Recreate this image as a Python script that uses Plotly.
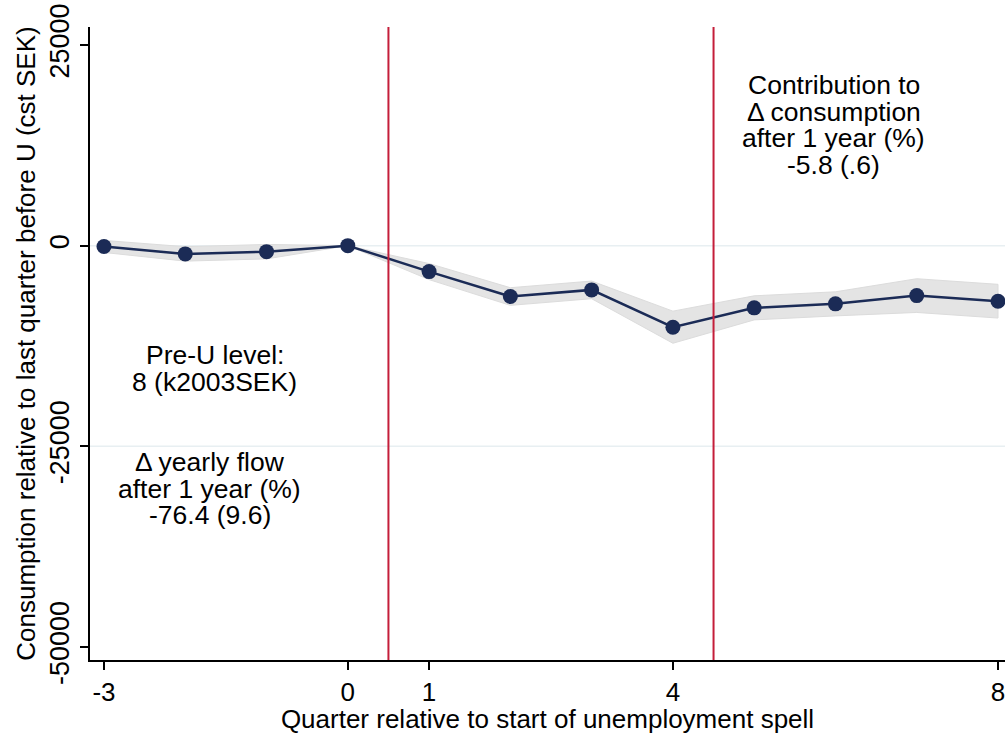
import plotly.graph_objects as go

quarters = [-3, -2, -1, 0, 1, 2, 3, 4, 5, 6, 7, 8]
consumption = [-100, -1030, -750, 0, -3230, -6340, -5510, -10160, -7750, -7250, -6220, -6920]
ci_half = [750, 900, 900, 0, 1000, 1100, 1100, 2000, 1500, 1500, 2100, 2100]
x_ticks = [-3, 0, 1, 4, 8]
y_ticks = [-50000, -25000, 0, 25000]
grid_y = [-25000, 0]
vlines = [0.5, 4.5]

left_text = ["Pre-U level:", "8 (k2003SEK)"]
left_text2 = ["\u0394 yearly flow", "after 1 year (%)", "-76.4 (9.6)"]
right_text = ["Contribution to", "\u0394 consumption", "after 1 year (%)", "-5.8 (.6)"]

FONT = "Liberation Sans, Arial, sans-serif"
NAVY = "#1b2b56"

upper = [c + h for c, h in zip(consumption, ci_half)]
lower = [c - h for c, h in zip(consumption, ci_half)]

fig = go.Figure()
fig.add_trace(go.Scatter(
    x=quarters + quarters[::-1], y=upper + lower[::-1],
    fill="toself", fillcolor="#e4e4e4", line=dict(color="#dcdcdc", width=1),
    mode="lines", hoverinfo="skip", showlegend=False))
fig.add_trace(go.Scatter(
    x=quarters, y=consumption, mode="lines+markers",
    line=dict(color=NAVY, width=2.5), marker=dict(color=NAVY, size=15),
    showlegend=False, cliponaxis=False))

shapes = []
for gy in grid_y:
    shapes.append(dict(type="line", xref="paper", x0=0, x1=1, yref="y", y0=gy, y1=gy,
                       line=dict(color="#e8eff2", width=1.5), layer="below"))
for vx in vlines:
    shapes.append(dict(type="line", xref="x", x0=vx, x1=vx, yref="paper", y0=0, y1=1,
                       line=dict(color="#c41e3a", width=2)))

annotations = []
def add_block(lines, xc, y_top_px):
    for i, t in enumerate(lines):
        annotations.append(dict(text=t, xref="x", x=xc, yref="paper",
                                y=1 - (y_top_px + 26.5 * i - 27) / 633.0,
                                yanchor="middle", xanchor="center", showarrow=False,
                                font=dict(family=FONT, size=26.5, color="black")))

add_block(left_text, -1.64, 355)
add_block(left_text2, -1.70, 462)
add_block(right_text, 5.98, 85)

fig.update_layout(
    width=1005, height=734,
    margin=dict(l=90, r=0, t=27, b=74),
    paper_bgcolor="white", plot_bgcolor="white",
    font=dict(family=FONT, size=26, color="black"),
    shapes=shapes, annotations=annotations,
    xaxis=dict(range=[-3.172, 8.086], tickvals=x_ticks, ticktext=[str(v) for v in x_ticks],
               showgrid=False, zeroline=False, showline=True, linecolor="black", linewidth=1.5,
               ticks="outside", ticklen=8, tickwidth=1.5, tickcolor="black",
               tickfont=dict(size=26), ticklabeloverflow="allow",
               title=dict(text="Quarter relative to start of unemployment spell",
                          font=dict(size=26), standoff=8)),
    yaxis=dict(range=[-51620, 27240], tickvals=y_ticks, ticktext=[str(v) for v in y_ticks],
               tickangle=-90, ticklabeloverflow="allow",
               showgrid=False, zeroline=False, showline=True, linecolor="black", linewidth=1.5,
               ticks="outside", ticklen=8, tickwidth=1.5, tickcolor="black",
               tickfont=dict(size=27),
               title=dict(text="Consumption relative to last quarter before U (cst SEK)",
                          font=dict(size=26), standoff=2)),
)

fig.write_html("out.html", config={"displayModeBar": False},
               post_script="document.body.style.margin='0';document.body.style.overflow='hidden';")
